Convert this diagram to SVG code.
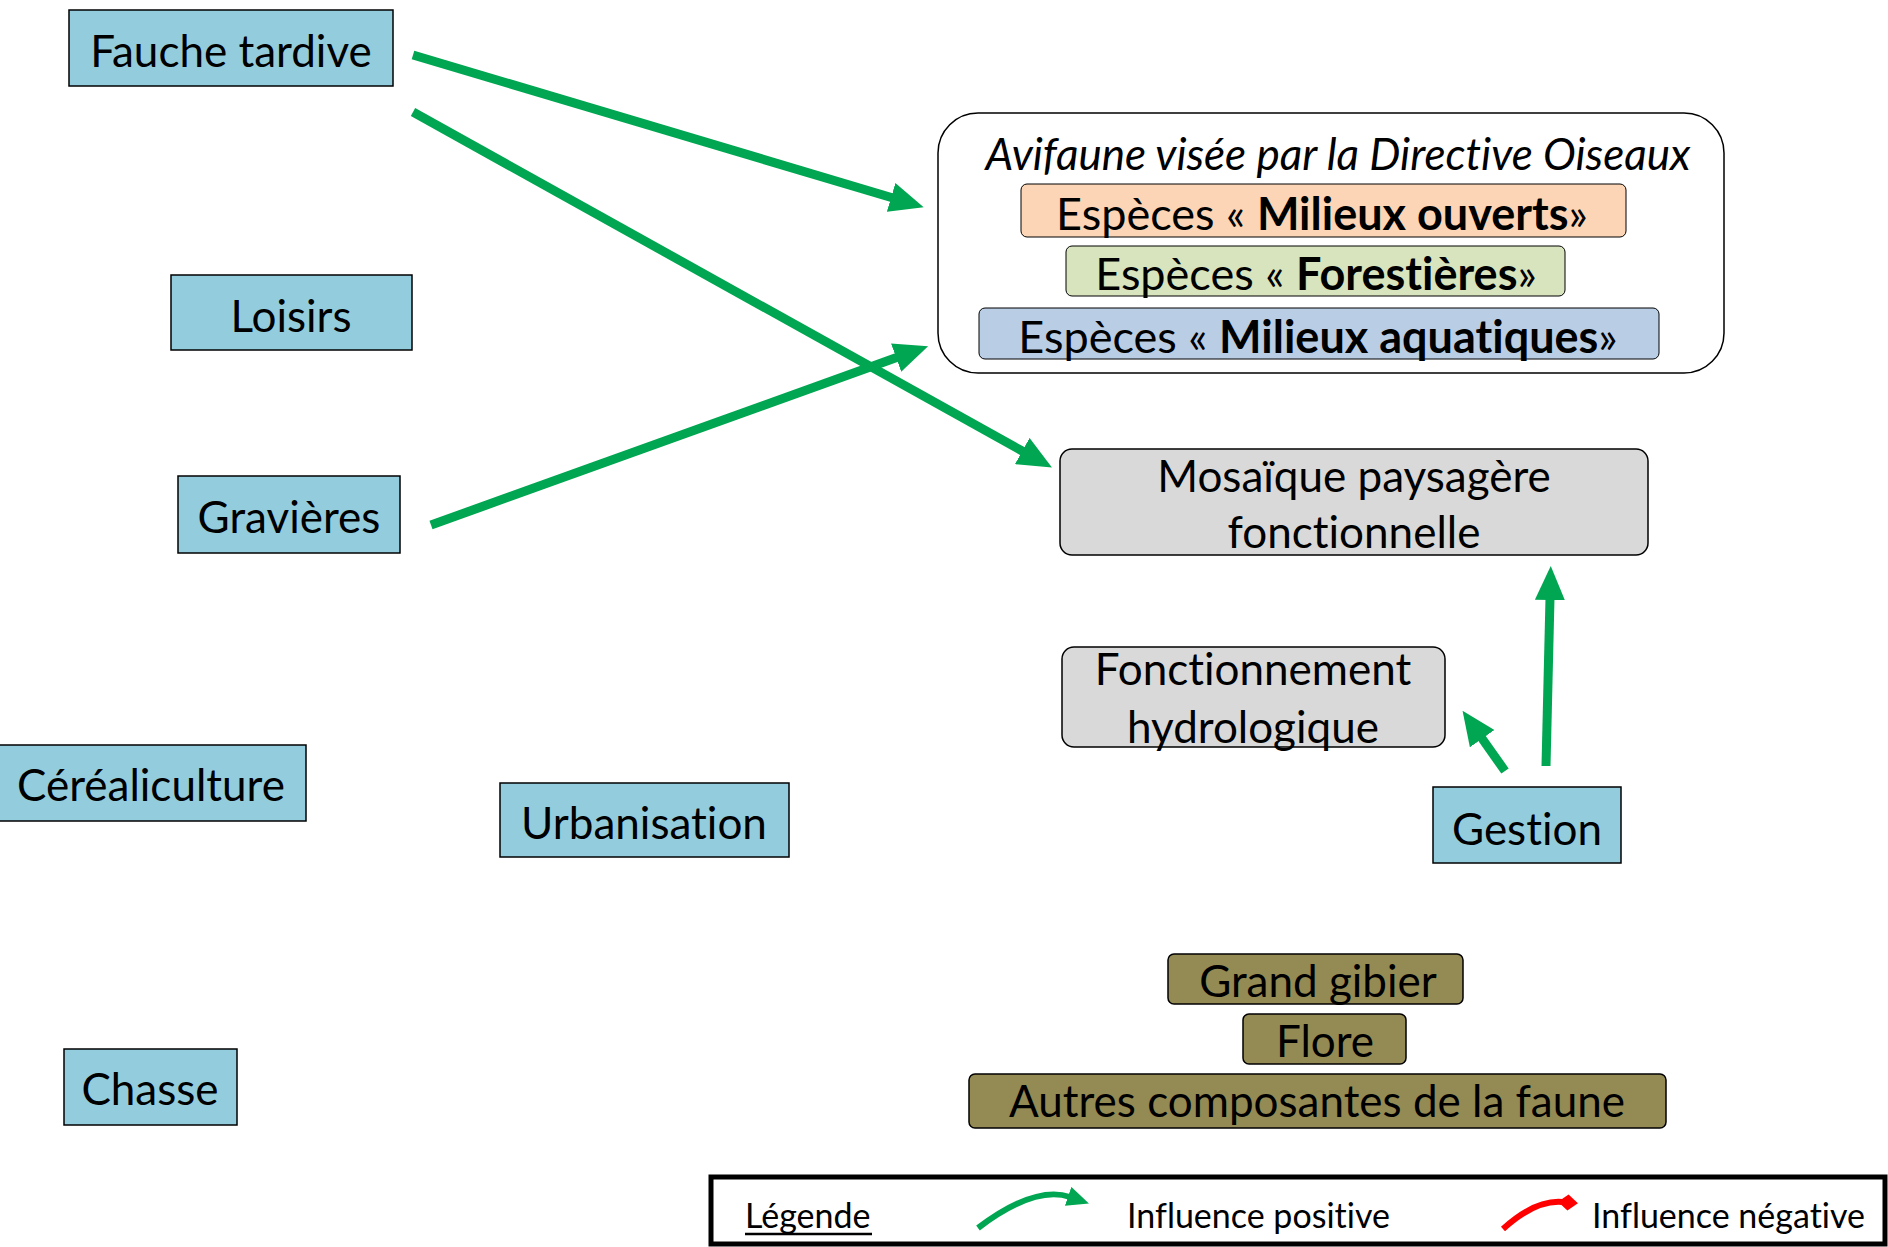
<svg xmlns="http://www.w3.org/2000/svg" width="1888" height="1247" viewBox="0 0 1888 1247">
<defs>
<style>
text{font-family:Lato,"Liberation Sans",sans-serif;fill:#000;font-variant-ligatures:none}
.lbl{font-size:44px;text-anchor:middle}
.sub{font-size:45px;text-anchor:middle}
.blue{fill:#93cddd;stroke:#000;stroke-width:1.5}
.grey{fill:#d9d9d9;stroke:#000;stroke-width:1.5}
.brown{fill:#948a54;stroke:#000;stroke-width:1.5}
.conn{stroke:#00a651;stroke-width:9;fill:none}
.leg{font-size:34px}
</style>
<marker id="ah" markerUnits="userSpaceOnUse" markerWidth="34" markerHeight="30" refX="2" refY="15" orient="auto" viewBox="0 0 34 30">
<path d="M0,0 L34,15 L0,30 Z" fill="#00a651"/>
</marker>
<marker id="ahs" markerUnits="userSpaceOnUse" markerWidth="22" markerHeight="20" refX="2" refY="10" orient="auto" viewBox="0 0 22 20">
<path d="M0,0 L22,10 L0,20 Z" fill="#00a651"/>
</marker>
<marker id="dia" markerUnits="userSpaceOnUse" markerWidth="20" markerHeight="20" refX="4" refY="10" orient="auto" viewBox="0 0 20 20">
<path d="M0,10 L10,2 L20,10 L10,18 Z" fill="#ff0000"/>
</marker>
</defs>

<g id="fauche"><rect class="blue" x="69" y="10" width="324" height="76"/><text class="lbl" x="231" y="67">Fauche tardive</text></g>
<g id="loisirs"><rect class="blue" x="171" y="275" width="241" height="75"/><text class="lbl" x="291" y="332">Loisirs</text></g>
<g id="gravieres"><rect class="blue" x="178" y="476" width="222" height="77"/><text class="lbl" x="289" y="533">Gravières</text></g>
<g id="cerealiculture"><rect class="blue" x="-2" y="745" width="308" height="76"/><text class="lbl" x="151" y="801">Céréaliculture</text></g>
<g id="urbanisation"><rect class="blue" x="500" y="783" width="289" height="74"/><text class="lbl" x="644" y="839">Urbanisation</text></g>
<g id="chasse"><rect class="blue" x="64" y="1049" width="173" height="76"/><text class="lbl" x="150" y="1105">Chasse</text></g>
<g id="gestion"><rect class="blue" x="1433" y="787" width="188" height="76"/><text class="lbl" x="1527" y="845">Gestion</text></g>

<g id="avifaune">
<rect x="938" y="113" width="786" height="260" rx="40" fill="#fff" stroke="#000" stroke-width="1.5"/>
<text class="lbl" x="1338" y="170" font-style="italic" font-size="47">Avifaune visée par la Directive Oiseaux</text>
<g id="ouverts"><rect x="1021" y="184" width="605" height="53" rx="6" fill="#fbd5b5" stroke="#000" stroke-width="1"/><text class="sub" x="1322" y="230">Espèces « <tspan font-weight="bold">Milieux ouverts</tspan>»</text></g>
<g id="forestieres"><rect x="1066" y="246" width="499" height="50" rx="6" fill="#d7e4bd" stroke="#000" stroke-width="1"/><text class="sub" x="1316" y="290">Espèces « <tspan font-weight="bold">Forestières</tspan>»</text></g>
<g id="aquatiques"><rect x="979" y="308" width="680" height="51" rx="6" fill="#b9cde5" stroke="#000" stroke-width="1"/><text class="sub" x="1318" y="353">Espèces « <tspan font-weight="bold">Milieux aquatiques</tspan>»</text></g>
</g>

<g id="mosaique"><rect class="grey" x="1060" y="449" width="588" height="106" rx="12"/><text class="lbl" x="1354" y="492">Mosaïque paysagère</text><text class="lbl" x="1354" y="548">fonctionnelle</text></g>
<g id="hydro"><rect class="grey" x="1062" y="647" width="383" height="100" rx="12"/><text class="lbl" x="1253" y="685">Fonctionnement</text><text class="lbl" x="1253" y="743">hydrologique</text></g>

<g id="gibier"><rect class="brown" x="1168" y="954" width="295" height="50" rx="6"/><text class="lbl" x="1318" y="997">Grand gibier</text></g>
<g id="flore"><rect class="brown" x="1243" y="1014" width="163" height="50" rx="6"/><text class="lbl" x="1325" y="1057">Flore</text></g>
<g id="autres"><rect class="brown" x="969" y="1074" width="697" height="54" rx="6"/><text class="lbl" x="1317" y="1117">Autres composantes de la faune</text></g>

<g id="connectors">
<line class="conn" x1="413" y1="55" x2="893" y2="198" marker-end="url(#ah)"/>
<line class="conn" x1="413" y1="112" x2="1024" y2="452" marker-end="url(#ah)"/>
<line class="conn" x1="431" y1="525" x2="898" y2="357" marker-end="url(#ah)"/>
<line class="conn" x1="1546" y1="766" x2="1550" y2="598" marker-end="url(#ah)"/>
<line class="conn" x1="1505" y1="771" x2="1481" y2="737" marker-end="url(#ah)"/>
</g>

<g id="legende">
<rect x="711" y="1177" width="1174" height="67" fill="#fff" stroke="#000" stroke-width="5"/>
<text class="leg" x="745" y="1228">Légende</text>
<line x1="745" y1="1234" x2="872" y2="1234" stroke="#000" stroke-width="2.5"/>
<path d="M978,1228 Q1035,1185 1070,1197" stroke="#00a651" stroke-width="6" fill="none" marker-end="url(#ahs)"/>
<text class="leg" x="1127" y="1228">Influence positive</text>
<path d="M1503,1229 Q1535,1200 1562,1202" stroke="#ff0000" stroke-width="6" fill="none" marker-end="url(#dia)"/>
<text class="leg" x="1592" y="1228">Influence négative</text>
</g>
</svg>
